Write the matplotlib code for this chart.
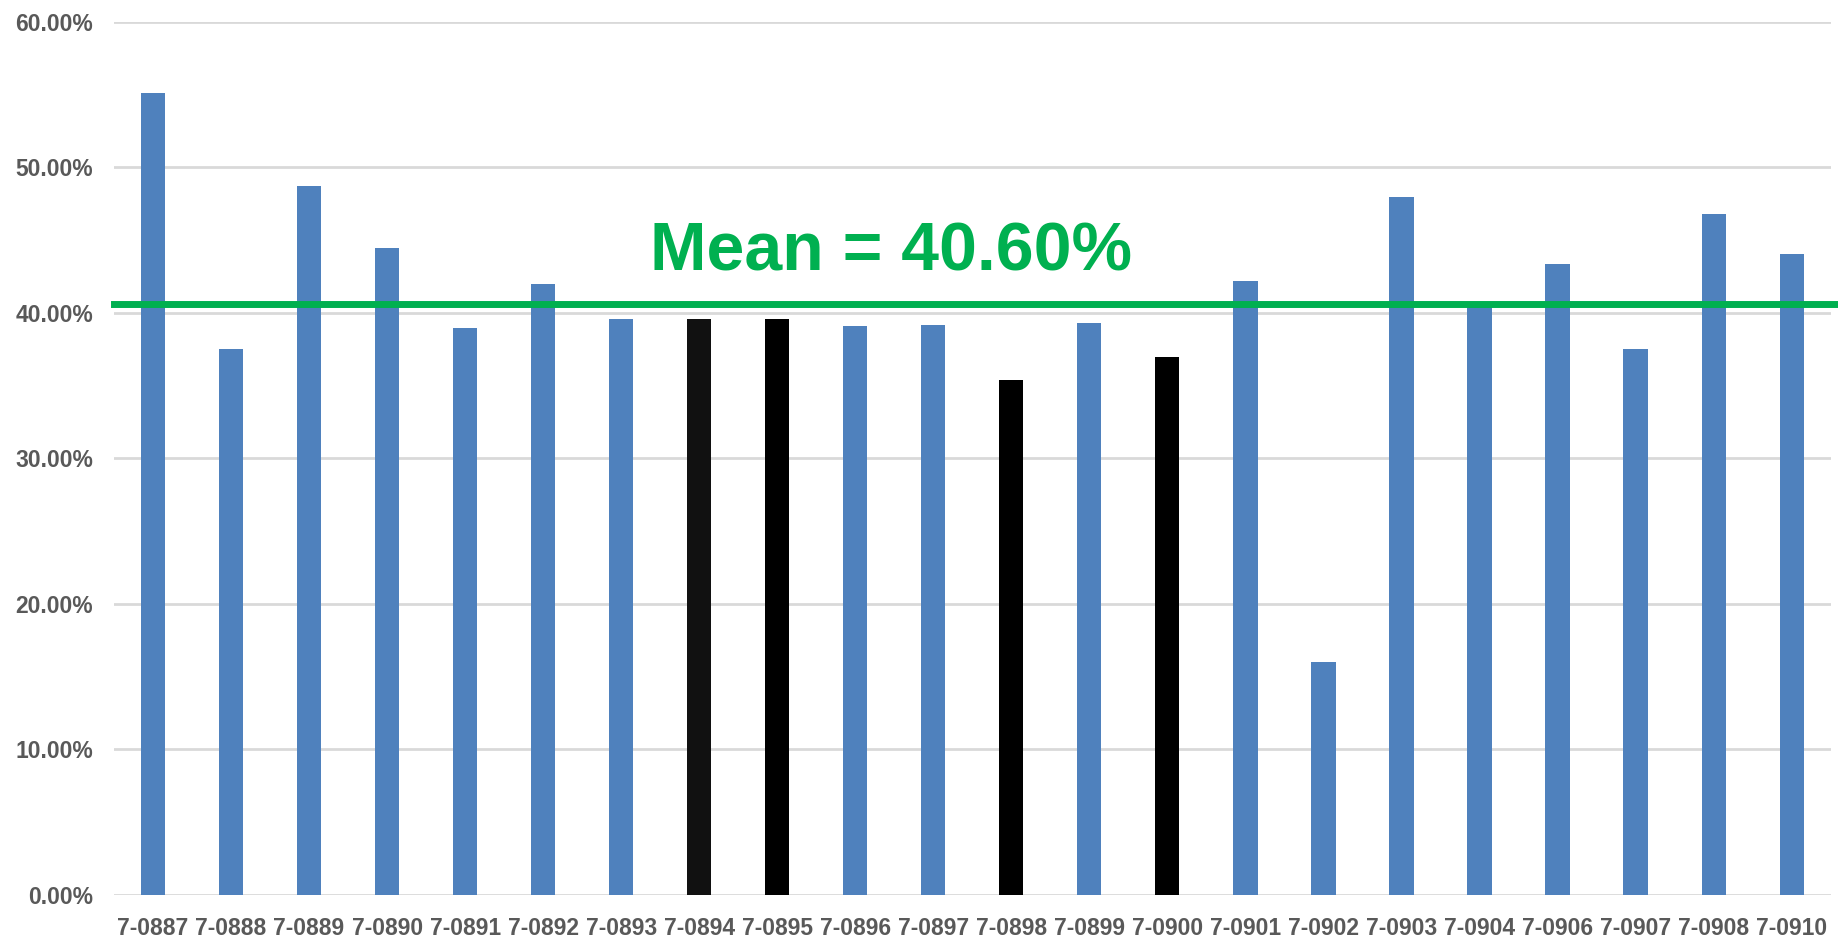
"""Bar chart of per-sample percentages with the overall mean marked."""

import matplotlib
matplotlib.use("Agg")
import matplotlib.pyplot as plt
from matplotlib.ticker import FuncFormatter, MultipleLocator

samples = ["7-0887", "7-0888", "7-0889", "7-0890", "7-0891", "7-0892", "7-0893",
           "7-0894", "7-0895", "7-0896", "7-0897", "7-0898", "7-0899", "7-0900",
           "7-0901", "7-0902", "7-0903", "7-0904", "7-0906", "7-0907", "7-0908",
           "7-0910"]
values = [0.551, 0.375, 0.487, 0.4445, 0.390, 0.420, 0.396,
          0.396, 0.396, 0.391, 0.392, 0.354, 0.393, 0.370,
          0.422, 0.160, 0.480, 0.404, 0.434, 0.375, 0.468,
          0.4405]
highlighted = ["7-0894", "7-0895", "7-0898", "7-0900"]
mean_value = 0.406

BLUE = "#4F81BD"
GREEN = "#00B050"
GRID = "#D9D9D9"
TEXT = "#595959"

plt.rcParams["font.family"] = ["Liberation Sans", "DejaVu Sans"]

fig = plt.figure(figsize=(18.38, 9.43), dpi=100, facecolor="white")
ax = fig.add_axes([0.062, 0.0509, 0.934, 0.9258])

colors = []
for name in samples:
    if name == "7-0894":
        colors.append("#111111")
    elif name in highlighted:
        colors.append("#000000")
    else:
        colors.append(BLUE)

x = range(len(samples))
ax.bar(x, values, width=0.31, color=colors, edgecolor="none", zorder=2)

ax.set_xlim(-0.5, len(samples) - 0.5)
ax.set_ylim(0, 0.6)
ax.yaxis.set_major_locator(MultipleLocator(0.1))
ax.yaxis.set_major_formatter(FuncFormatter(lambda v, _: f"{v * 100:.2f}%"))
ax.grid(True, axis="y", color=GRID, linewidth=2.0, zorder=1)
ax.set_axisbelow(True)
for spine in ax.spines.values():
    spine.set_visible(False)

ax.set_xticks(list(x))
ax.set_xticklabels(samples)
ax.tick_params(axis="both", length=0, colors=TEXT, labelsize=16.5)
ax.tick_params(axis="x", pad=16)
ax.tick_params(axis="y", pad=15)
for label in ax.get_xticklabels() + ax.get_yticklabels():
    label.set_fontweight("bold")

ax.axhline(mean_value, xmin=0, xmax=1.005, color=GREEN, linewidth=5, zorder=3,
           clip_on=False)
ax.text(9.46, 0.429, f"Mean = {mean_value * 100:.2f}%", color=GREEN, fontsize=49,
        fontweight="bold", ha="center", va="baseline", zorder=4)

fig.savefig("out.png", dpi=100, facecolor="white")
